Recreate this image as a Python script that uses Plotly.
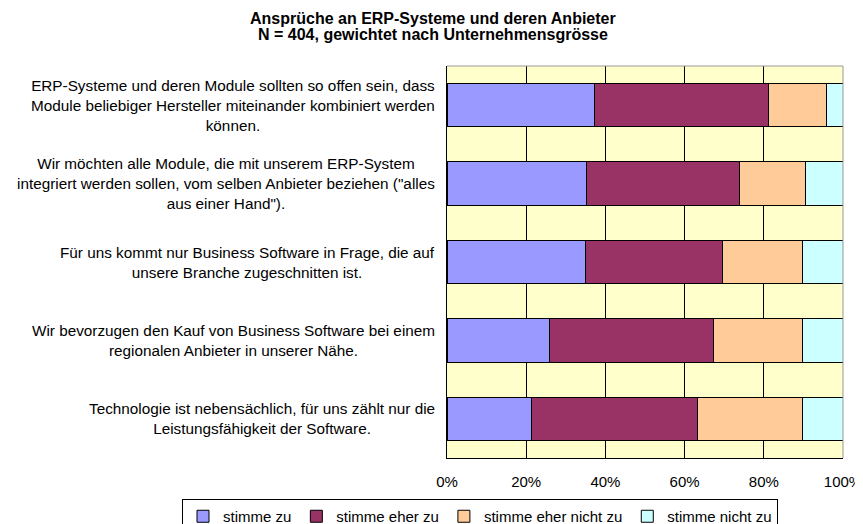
import plotly.graph_objects as go

categories = [
    "ERP-Systeme und deren Module sollten so offen sein, dass<br>Module beliebiger Hersteller miteinander kombiniert werden<br>können.",
    "Wir möchten alle Module, die mit unserem ERP-System<br>integriert werden sollen, vom selben Anbieter beziehen (\"alles<br>aus einer Hand\").",
    "Für uns kommt nur Business Software in Frage, die auf<br>unsere Branche zugeschnitten ist.",
    "Wir bevorzugen den Kauf von Business Software bei einem<br>regionalen Anbieter in unserer Nähe.",
    "Technologie ist nebensächlich, für uns zählt nur die<br>Leistungsfähigkeit der Software.",
]
series_names = ["stimme zu", "stimme eher zu", "stimme eher nicht zu", "stimme nicht zu"]
stimme_zu = [37.3, 35.2, 34.9, 25.9, 21.4]
stimme_eher_zu = [43.9, 38.6, 34.7, 41.5, 41.8]
stimme_eher_nicht_zu = [14.7, 16.7, 20.2, 22.3, 26.5]
stimme_nicht_zu = [4.1, 9.5, 10.2, 10.3, 10.3]
x_ticks = [0, 20, 40, 60, 80, 100]
x_tick_labels = ["0%", "20%", "40%", "60%", "80%", "100%"]
title_lines = ["Ansprüche an ERP-Systeme und deren Anbieter",
               "N = 404, gewichtet nach Unternehmensgrösse"]

colors = ["#9999FF", "#993366", "#FFCC99", "#CCFFFF"]
values = [stimme_zu, stimme_eher_zu, stimme_eher_nicht_zu, stimme_nicht_zu]
ypos = list(range(len(categories)))

FONT = "Liberation Sans, Arial, sans-serif"
OFF = 8                      # default page body margin
W, H = 863 - OFF, 524 - OFF
# plot area in page pixels, converted to figure pixels
PL, PR, PT, PB = 447 - OFF, 843 - OFF, 66 - OFF, 458 - OFF


def px_x(page_x):
    return (page_x - OFF - PL) / (PR - PL)


def px_y(page_y):
    return (PB - (page_y - OFF)) / (PB - PT)


fig = go.Figure()
for name, vals, col in zip(series_names, values, colors):
    fig.add_trace(go.Bar(
        x=vals, y=ypos, orientation="h", name=name,
        marker=dict(color=col, line=dict(color="black", width=1)),
        width=0.555,
    ))

annotations = []
for i, cat in enumerate(categories):
    annotations.append(dict(
        x=px_x(437), y=i, xref="paper", yref="y", text=cat,
        showarrow=False, xanchor="right", yanchor="middle", align="center",
        font=dict(family=FONT, size=15.3, color="black"),
    ))
for line, base in zip(title_lines, [25, 41]):
    annotations.append(dict(
        x=px_x(433), y=px_y(base + 4), xref="paper", yref="paper",
        text="<b>%s</b>" % line, showarrow=False, xanchor="center", yanchor="bottom",
        font=dict(family=FONT, size=16, color="black"),
    ))

fig.update_layout(
    width=W, height=H,
    margin=dict(l=PL, r=W - PR, t=PT, b=H - PB, autoexpand=False),
    barmode="stack",
    paper_bgcolor="white",
    plot_bgcolor="#FFFFCC",
    font=dict(family=FONT, size=15, color="black"),
    xaxis=dict(
        range=[0, 100], tickvals=x_ticks, ticktext=x_tick_labels,
        showgrid=True, gridcolor="black", gridwidth=1,
        showline=True, linecolor="black", linewidth=1,
        ticks="outside", ticklen=10, tickcolor="rgba(0,0,0,0)",
        zeroline=False,
        tickfont=dict(family=FONT, size=15, color="black"),
        fixedrange=True,
    ),
    yaxis=dict(
        range=[4.5, -0.5], showticklabels=False, showgrid=False,
        showline=True, linecolor="black", linewidth=1, zeroline=False,
        ticks="",
    ),
    showlegend=True,
    legend=dict(
        orientation="h",
        x=px_x(182), xanchor="left", y=px_y(499), yanchor="top",
        bordercolor="black", borderwidth=1, bgcolor="white",
        font=dict(family=FONT, size=15, color="black"),
        traceorder="normal", itemwidth=30,
    ),
    annotations=annotations,
    shapes=[
        dict(type="line", xref="paper", yref="paper", x0=0, x1=1, y0=1, y1=1,
             line=dict(color="#999999", width=1)),
        dict(type="line", xref="paper", yref="paper", x0=1, x1=1, y0=0, y1=1,
             line=dict(color="#999999", width=1)),
    ],
    bargap=0.445,
)

fig.write_html("out.html")
